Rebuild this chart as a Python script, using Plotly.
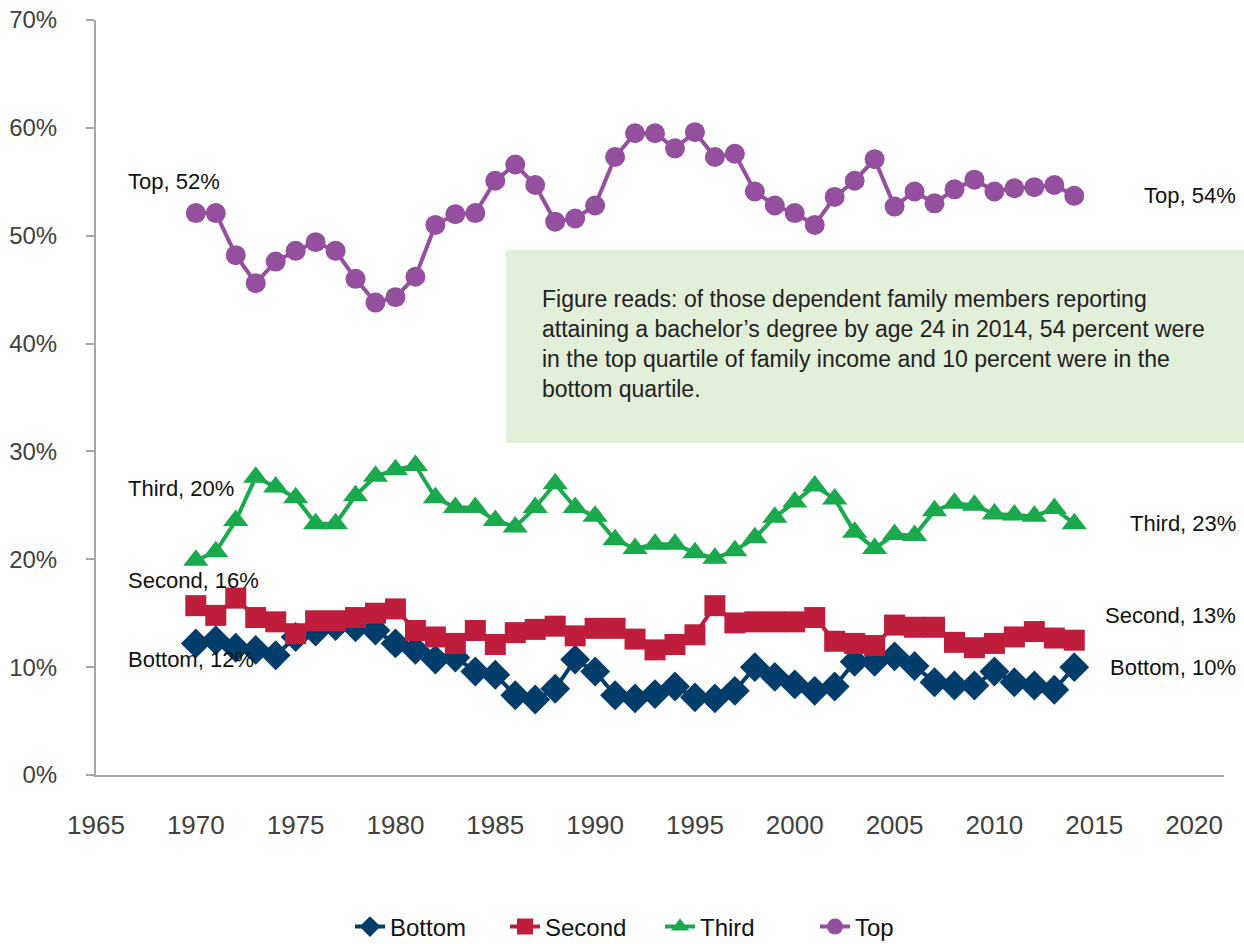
import plotly.graph_objects as go

years = list(range(1970, 2015))

bottom = [12.2, 12.5, 11.8, 11.6, 11.1, 12.8, 13.3, 13.8, 13.7, 13.4,
          12.2, 11.6, 10.7, 10.9, 9.6, 9.3, 7.4, 7.0, 8.0, 10.7,
          9.6, 7.4, 7.1, 7.5, 8.2, 7.2, 7.1, 7.8, 10.0, 9.1,
          8.4, 7.8, 8.2, 10.5, 10.5, 11.0, 10.1, 8.6, 8.3, 8.3,
          9.6, 8.6, 8.3, 7.9, 10.0]
second = [15.7, 14.8, 16.4, 14.6, 14.2, 13.1, 14.3, 14.3, 14.6, 15.0,
          15.4, 13.4, 12.8, 12.2, 13.4, 12.1, 13.2, 13.5, 13.8, 12.9,
          13.6, 13.6, 12.6, 11.6, 12.1, 13.0, 15.7, 14.1, 14.2, 14.2,
          14.2, 14.6, 12.4, 12.2, 12.0, 13.9, 13.7, 13.7, 12.3, 11.8,
          12.2, 12.8, 13.3, 12.7, 12.5]
third = [19.9, 20.7, 23.6, 27.6, 26.7, 25.7, 23.3, 23.3, 25.9, 27.7,
         28.3, 28.7, 25.7, 24.8, 24.8, 23.6, 23.0, 24.8, 27.0, 24.8,
         24.0, 21.8, 21.0, 21.4, 21.4, 20.6, 20.1, 20.8, 22.0, 23.9,
         25.3, 26.8, 25.6, 22.5, 21.0, 22.3, 22.2, 24.5, 25.2, 25.0,
         24.2, 24.1, 24.0, 24.7, 23.3]
top = [52.1, 52.1, 48.2, 45.6, 47.6, 48.6, 49.4, 48.6, 46.0, 43.8,
       44.3, 46.2, 51.0, 52.0, 52.1, 55.1, 56.6, 54.7, 51.3, 51.6,
       52.8, 57.3, 59.5, 59.5, 58.1, 59.6, 57.3, 57.6, 54.1, 52.8,
       52.1, 51.0, 53.6, 55.1, 57.1, 52.7, 54.1, 53.0, 54.3, 55.2,
       54.1, 54.4, 54.5, 54.7, 53.7]

series_names = ["Bottom", "Second", "Third", "Top"]
series_values = [bottom, second, third, top]
start_labels = ["Bottom, 12%", "Second, 16%", "Third, 20%", "Top, 52%"]
end_labels = ["Bottom, 10%", "Second, 13%", "Third, 23%", "Top, 54%"]
colors = ["#003d6b", "#be1e3c", "#1aa94d", "#944f9f"]
symbols = ["diamond", "square", "triangle-up", "circle"]
marker_sizes = [23, 21, 22, 20]

x_ticks = list(range(1965, 2021, 5))
y_ticks = list(range(0, 71, 10))

note = ("Figure reads: of those dependent family members reporting<br>"
        "attaining a bachelor\u2019s degree by age 24 in 2014, 54 percent were<br>"
        "in the top quartile of family income and 10 percent were in the<br>"
        "bottom quartile.")

FONT = "Liberation Sans Narrow, Arial Narrow, Liberation Sans, Arial, sans-serif"

fig = go.Figure()
for name, vals, col, sym, ms in zip(series_names, series_values, colors, symbols, marker_sizes):
    fig.add_trace(go.Scatter(
        x=years, y=vals, name=name, mode="lines+markers",
        line=dict(color=col, width=4),
        marker=dict(symbol=sym, size=ms, color=col, line=dict(width=0)),
        cliponaxis=False,
    ))

# Background box for the note
fig.add_shape(type="rect", xref="paper", yref="y",
              x0=0.3635, x1=1.03, y0=30.78, y1=48.67,
              fillcolor="#e2efd9", line=dict(width=0), layer="below")
fig.add_annotation(xref="x", yref="y", x=1987.22, y=45.5, text=note,
                   showarrow=False, xanchor="left", yanchor="top", align="left",
                   font=dict(family=FONT, size=23, color="#222222"))

# Series labels (vertical placement of each label, in data units)
lbl_font = dict(family=FONT, size=22, color="#111111")
start_label_y = [10.75, 17.99, 26.52, 55.07]
end_label_y = [10.01, 14.83, 23.36, 53.77]
for txt, yv in zip(start_labels, start_label_y):
    fig.add_annotation(xref="x", yref="y", x=1966.5, y=yv, text=txt, showarrow=False,
                       xanchor="left", yanchor="middle", font=lbl_font)
for txt, yv in zip(end_labels, end_label_y):
    fig.add_annotation(xref="paper", yref="y", x=1.0124, y=yv, text=txt, showarrow=False,
                       xanchor="right", yanchor="middle", font=lbl_font)

fig.update_layout(
    width=1244, height=944,
    margin=dict(l=96, r=20, t=20, b=169, autoexpand=False),
    paper_bgcolor="white", plot_bgcolor="white",
    font=dict(family=FONT, size=24, color="#404040"),
    showlegend=True,
    legend=dict(orientation="h", x=0.500, xanchor="center", y=-0.2013, yanchor="middle",
                font=dict(family=FONT, size=24, color="#111111"),
                entrywidth=110, entrywidthmode="pixels",
                tracegroupgap=0),
    xaxis=dict(range=[1965, 2021.5], tickvals=x_ticks, ticktext=[str(v) for v in x_ticks],
               showgrid=False, zeroline=False, showline=True, linecolor="#a6a6a6", linewidth=2,
               ticks="", ticklabelstandoff=26, automargin=False,
               tickfont=dict(family=FONT, size=26, color="#404040")),
    yaxis=dict(range=[0, 70], tickvals=y_ticks, ticktext=[f"{v}%" for v in y_ticks],
               showgrid=False, zeroline=False, showline=True, linecolor="#a6a6a6", linewidth=2,
               ticks="outside", ticklen=8, tickcolor="#a6a6a6", tickwidth=2,
               ticklabelstandoff=24, automargin=False,
               tickfont=dict(family=FONT, size=24, color="#404040")),
)

fig.write_html("out.html", config={"displayModeBar": False},
               post_script="document.body.style.margin='0';")
